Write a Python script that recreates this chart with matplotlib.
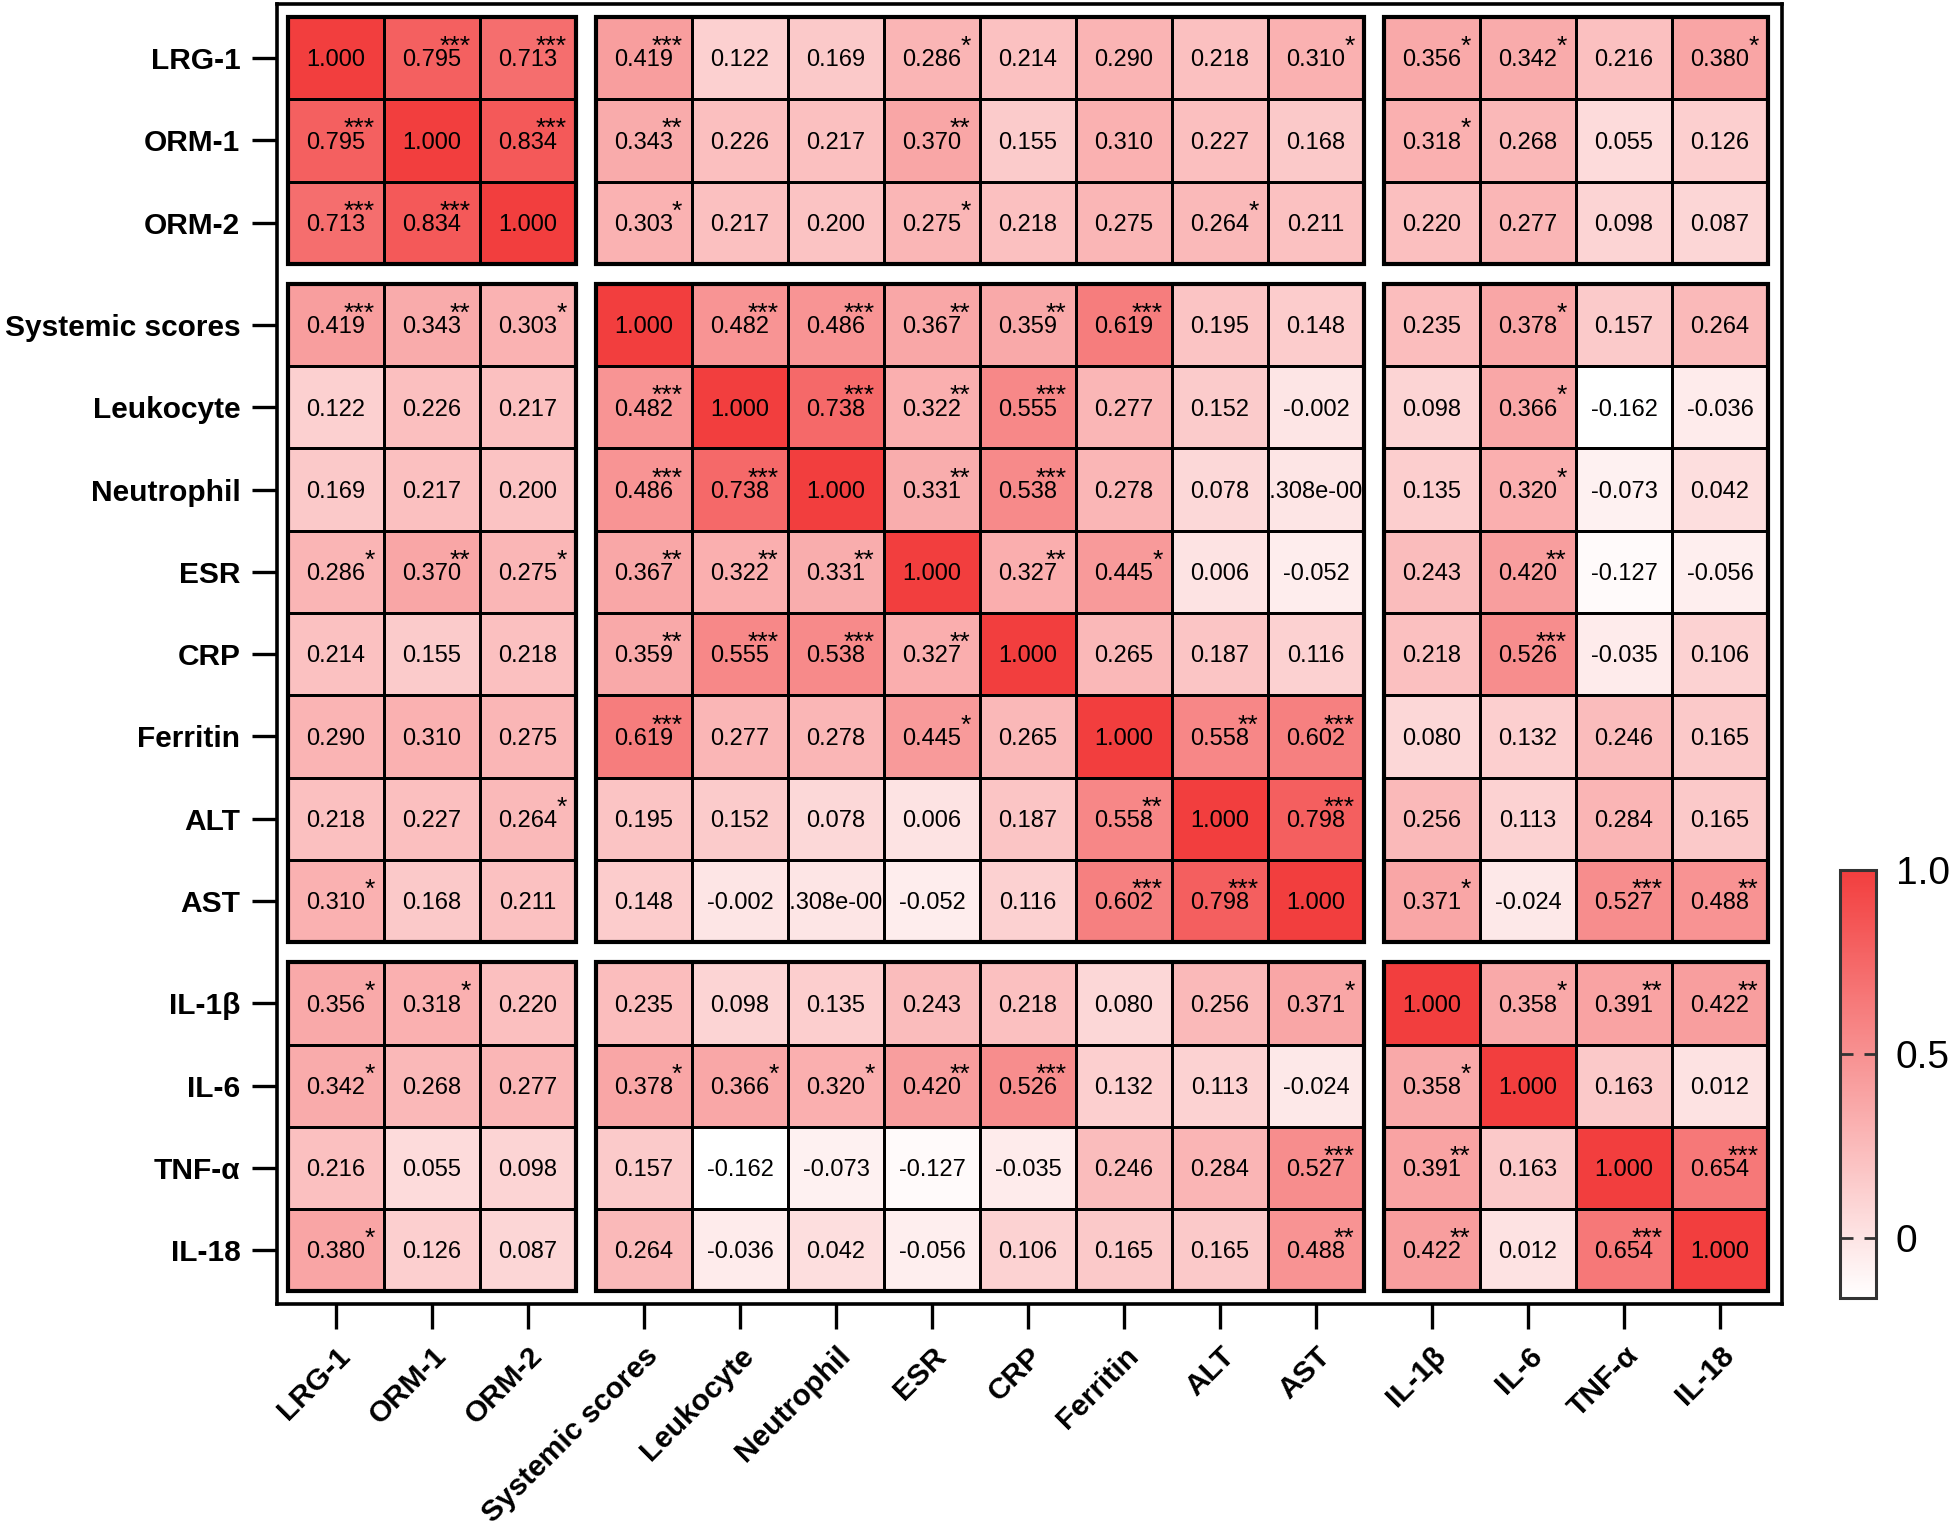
import numpy as np
import matplotlib
matplotlib.use("Agg")
import matplotlib.pyplot as plt
from matplotlib.colors import LinearSegmentedColormap, Normalize
from matplotlib.patches import Rectangle

plt.rcParams['font.family'] = ['Liberation Sans', 'DejaVu Sans']

labels = ["LRG-1", "ORM-1", "ORM-2", "Systemic scores", "Leukocyte", "Neutrophil",
          "ESR", "CRP", "Ferritin", "ALT", "AST", "IL-1β", "IL-6", "TNF-α", "IL-18"]
group_sizes = [3, 8, 4]

# correlation coefficients, one list per row
r_lrg1 = [1.000, 0.795, 0.713, 0.419, 0.122, 0.169, 0.286, 0.214, 0.290, 0.218, 0.310, 0.356, 0.342, 0.216, 0.380]
r_orm1 = [0.795, 1.000, 0.834, 0.343, 0.226, 0.217, 0.370, 0.155, 0.310, 0.227, 0.168, 0.318, 0.268, 0.055, 0.126]
r_orm2 = [0.713, 0.834, 1.000, 0.303, 0.217, 0.200, 0.275, 0.218, 0.275, 0.264, 0.211, 0.220, 0.277, 0.098, 0.087]
r_sys = [0.419, 0.343, 0.303, 1.000, 0.482, 0.486, 0.367, 0.359, 0.619, 0.195, 0.148, 0.235, 0.378, 0.157, 0.264]
r_leu = [0.122, 0.226, 0.217, 0.482, 1.000, 0.738, 0.322, 0.555, 0.277, 0.152, -0.002, 0.098, 0.366, -0.162, -0.036]
r_neu = [0.169, 0.217, 0.200, 0.486, 0.738, 1.000, 0.331, 0.538, 0.278, 0.078, 7.308e-4, 0.135, 0.320, -0.073, 0.042]
r_esr = [0.286, 0.370, 0.275, 0.367, 0.322, 0.331, 1.000, 0.327, 0.445, 0.006, -0.052, 0.243, 0.420, -0.127, -0.056]
r_crp = [0.214, 0.155, 0.218, 0.359, 0.555, 0.538, 0.327, 1.000, 0.265, 0.187, 0.116, 0.218, 0.526, -0.035, 0.106]
r_fer = [0.290, 0.310, 0.275, 0.619, 0.277, 0.278, 0.445, 0.265, 1.000, 0.558, 0.602, 0.080, 0.132, 0.246, 0.165]
r_alt = [0.218, 0.227, 0.264, 0.195, 0.152, 0.078, 0.006, 0.187, 0.558, 1.000, 0.798, 0.256, 0.113, 0.284, 0.165]
r_ast = [0.310, 0.168, 0.211, 0.148, -0.002, 7.308e-4, -0.052, 0.116, 0.602, 0.798, 1.000, 0.371, -0.024, 0.527, 0.488]
r_il1b = [0.356, 0.318, 0.220, 0.235, 0.098, 0.135, 0.243, 0.218, 0.080, 0.256, 0.371, 1.000, 0.358, 0.391, 0.422]
r_il6 = [0.342, 0.268, 0.277, 0.378, 0.366, 0.320, 0.420, 0.526, 0.132, 0.113, -0.024, 0.358, 1.000, 0.163, 0.012]
r_tnf = [0.216, 0.055, 0.098, 0.157, -0.162, -0.073, -0.127, -0.035, 0.246, 0.284, 0.527, 0.391, 0.163, 1.000, 0.654]
r_il18 = [0.380, 0.126, 0.087, 0.264, -0.036, 0.042, -0.056, 0.106, 0.165, 0.165, 0.488, 0.422, 0.012, 0.654, 1.000]

# significance stars (number of asterisks), one list per row
s_lrg1 = [0, 3, 3, 3, 0, 0, 1, 0, 0, 0, 1, 1, 1, 0, 1]
s_orm1 = [3, 0, 3, 2, 0, 0, 2, 0, 0, 0, 0, 1, 0, 0, 0]
s_orm2 = [3, 3, 0, 1, 0, 0, 1, 0, 0, 1, 0, 0, 0, 0, 0]
s_sys = [3, 2, 1, 0, 3, 3, 2, 2, 3, 0, 0, 0, 1, 0, 0]
s_leu = [0, 0, 0, 3, 0, 3, 2, 3, 0, 0, 0, 0, 1, 0, 0]
s_neu = [0, 0, 0, 3, 3, 0, 2, 3, 0, 0, 0, 0, 1, 0, 0]
s_esr = [1, 2, 1, 2, 2, 2, 0, 2, 1, 0, 0, 0, 2, 0, 0]
s_crp = [0, 0, 0, 2, 3, 3, 2, 0, 0, 0, 0, 0, 3, 0, 0]
s_fer = [0, 0, 0, 3, 0, 0, 1, 0, 0, 2, 3, 0, 0, 0, 0]
s_alt = [0, 0, 1, 0, 0, 0, 0, 0, 2, 0, 3, 0, 0, 0, 0]
s_ast = [1, 0, 0, 0, 0, 0, 0, 0, 3, 3, 0, 1, 0, 3, 2]
s_il1b = [1, 1, 0, 0, 0, 0, 0, 0, 0, 0, 1, 0, 1, 2, 2]
s_il6 = [1, 0, 0, 1, 1, 1, 2, 3, 0, 0, 0, 1, 0, 0, 0]
s_tnf = [0, 0, 0, 0, 0, 0, 0, 0, 0, 0, 3, 2, 0, 0, 3]
s_il18 = [1, 0, 0, 0, 0, 0, 0, 0, 0, 0, 2, 2, 0, 3, 0]

corr = np.array([r_lrg1, r_orm1, r_orm2, r_sys, r_leu, r_neu, r_esr, r_crp,
                 r_fer, r_alt, r_ast, r_il1b, r_il6, r_tnf, r_il18])
stars = np.array([s_lrg1, s_orm1, s_orm2, s_sys, s_leu, s_neu, s_esr, s_crp,
                  s_fer, s_alt, s_ast, s_il1b, s_il6, s_tnf, s_il18])

cbar_ticks = [0, 0.5, 1.0]
cbar_ticklabels = ["0", "0.5", "1.0"]


def fmt(v):
    if v != 0 and abs(v) < 0.001:
        m, e = f"{v:.3e}".split("e")
        return f"{m}e-{abs(int(e)):03d}"
    return f"{v:.3f}"


cmap = LinearSegmentedColormap.from_list("wr", ["#FFFFFF", "#F23E3E"])
norm = Normalize(vmin=corr.min(), vmax=1.0)

fig = plt.figure(figsize=(19.5, 15.29), dpi=100)
ax = fig.add_axes([0.1418, 0.1471, 0.772, 0.8503])

gx, gy = 0.208, 0.243
starts = np.cumsum([0] + group_sizes[:-1])
n = len(labels)
block_of = np.repeat(np.arange(len(group_sizes)), group_sizes)
xpos = np.arange(n) + gx * block_of   # left edge of each column
ypos = np.arange(n) + gy * block_of   # top edge of each row

for bi, (si, ni) in enumerate(zip(starts, group_sizes)):
    for bj, (sj, nj) in enumerate(zip(starts, group_sizes)):
        sub = corr[si:si + ni, sj:sj + nj]
        X = xpos[sj] + np.arange(nj + 1)
        Y = ypos[si] + np.arange(ni + 1)
        mesh = ax.pcolormesh(X, Y, sub, cmap=cmap, norm=norm,
                             edgecolors="black", linewidth=2.0)
        ax.add_patch(Rectangle((X[0], Y[0]), nj, ni, fill=False,
                               edgecolor="black", linewidth=3.0, zorder=3))

for i in range(n):
    for j in range(n):
        x0, y0 = xpos[j], ypos[i]
        t = ax.text(x0 + 0.5, y0 + 0.60, fmt(corr[i, j]), ha="center",
                    va="baseline", fontsize=17, color="black", zorder=4)
        clip = Rectangle((x0 + 0.02, y0), 0.96, 1, transform=ax.transData)
        t.set_clip_path(clip)
        t.set_clip_on(True)
        if stars[i, j] > 0:
            ax.text(x0 + 0.90, y0 + 0.45, "*" * stars[i, j], ha="right",
                    va="baseline", fontsize=19, color="black", zorder=4)

ax.set_xlim(-0.12, 15.56)
ax.set_ylim(15.64, -0.158)
ax.set_xticks(xpos + 0.5)
ax.set_yticks(ypos + 0.5)
ax.set_xticklabels(labels, rotation=45, ha="right", rotation_mode="anchor",
                   fontsize=21.5, fontweight="bold")
ax.set_yticklabels(labels, fontsize=21.5, fontweight="bold")
ax.tick_params(axis="both", length=18, width=2.4, direction="out")
ax.tick_params(axis="y", pad=8)
ax.tick_params(axis="x", pad=9)
for sp in ax.spines.values():
    sp.set_linewidth(2.6)

cax = fig.add_axes([0.9436, 0.1511, 0.0187, 0.28])
cb = fig.colorbar(mesh, cax=cax, ticks=cbar_ticks)
cb.set_ticklabels(cbar_ticklabels)
cb.outline.set_linewidth(2.2)
cb.outline.set_edgecolor("#333333")
cax.tick_params(direction="in", length=9, width=2, color="#333333",
                left=True, right=True, labelsize=28, pad=14)

fig.savefig("out.png", dpi=100)
